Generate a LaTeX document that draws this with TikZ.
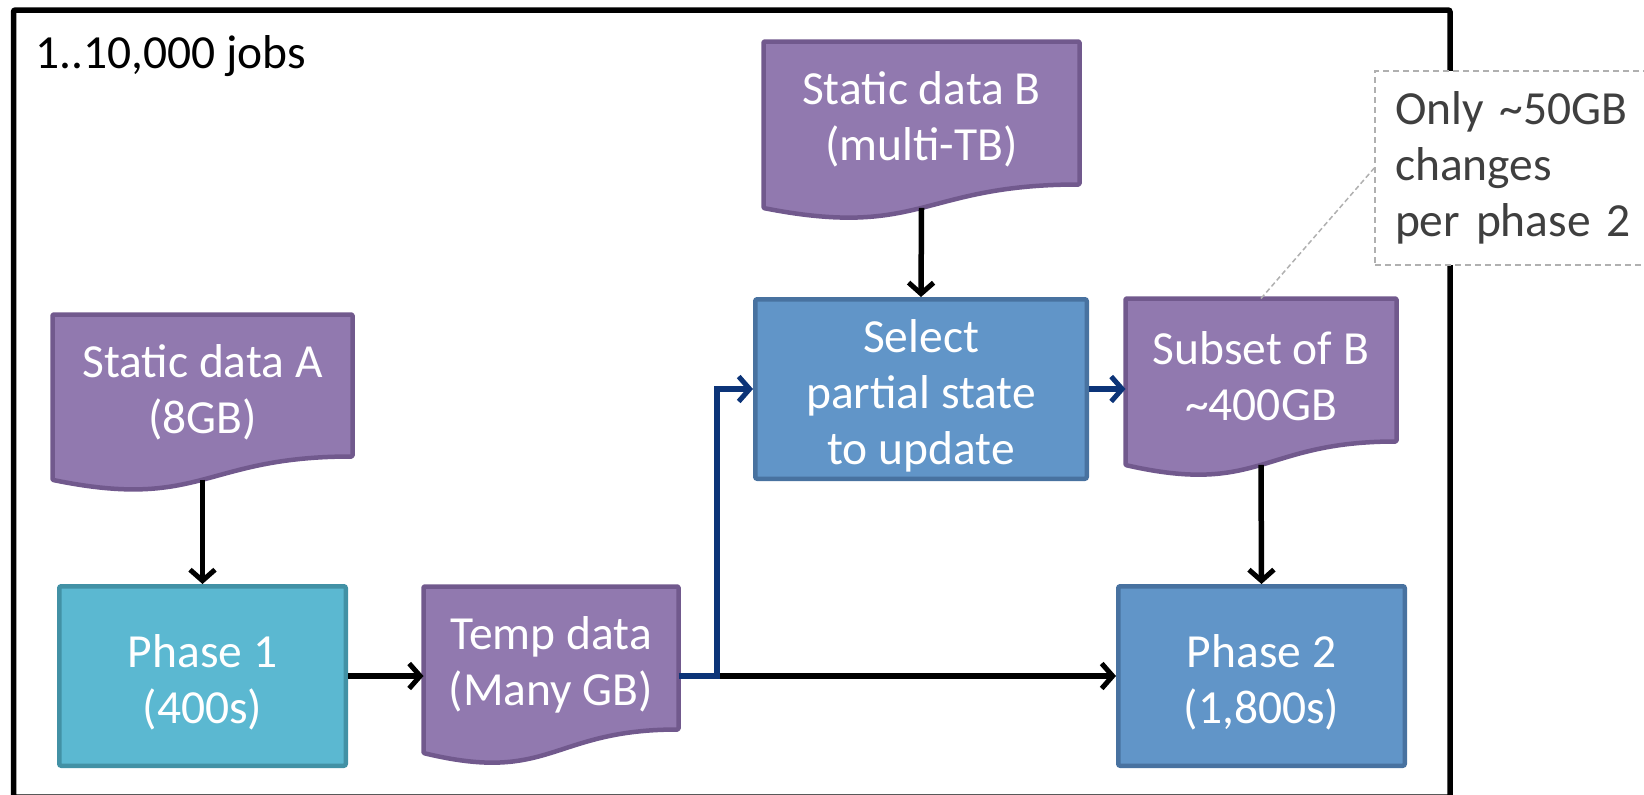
\documentclass[tikz,border=0pt]{standalone}
\usepackage{fontspec}
\setmainfont{Carlito}
\usetikzlibrary{arrows.meta,backgrounds}

\definecolor{docfill}{RGB}{145,121,175}
\definecolor{docedge}{RGB}{113,89,141}
\definecolor{procfill}{RGB}{97,149,200}
\definecolor{procedge}{RGB}{72,114,160}
\definecolor{firstfill}{RGB}{91,184,209}
\definecolor{firstedge}{RGB}{66,145,165}
\definecolor{navyflow}{RGB}{12,52,120}
\definecolor{notegray}{RGB}{176,176,176}
\definecolor{notetext}{RGB}{63,63,63}

\newcommand\bigfont{\fontsize{47.5}{56}\selectfont}
% taller first line, pushes the text block a little lower in its box
\newcommand\lowerstrut{\rule{0pt}{46pt}}

% document shape: flat top, wavy bottom hanging below the node's south edge
% #1 node name, #2 height of the straight part (pt)
\newcommand\drawdoc[2]{%
  \draw[docpath] (#1.north west) -- (#1.north east) -- (#1.south east)
    .. controls (#1.south) and ([yshift={-0.381*#2}]#1.south) ..
    ([yshift={-0.1646*#2}]#1.south west) -- cycle;
  \coordinate (#1-out) at ([yshift={-0.1633*#2}]#1.south);}

\tikzset{
  label text/.style={text=white, align=center, font=\bigfont, inner sep=0pt},
  procbox/.style={label text, draw, line width=4.5pt, rounded corners=2pt,
    minimum height=179.5},
  firstbox/.style={procbox, fill=firstfill, draw=firstedge},
  bluebox/.style={procbox, fill=procfill, draw=procedge},
  docnode/.style={label text, outer sep=0pt},
  docpath/.style={fill=docfill, draw=docedge, line width=4.5pt,
    line join=round, rounded corners=1pt},
  flow/.style={line width=5.5pt,
    -{Straight Barb[length=11pt,width=25pt,line width=5pt]}},
  navy/.style={flow, draw=navyflow},
  notebox/.style={draw=notegray, dash pattern=on 6pt off 4pt,
    line width=1.5pt, fill=white, text=notetext, font=\bigfont,
    align=left, text width=250pt, inner xsep=20pt, inner ysep=0pt,
    minimum height=194},
  leader/.style={draw=notegray, line width=1.5pt, dash pattern=on 5pt off 3pt},
}

\begin{document}
\begin{tikzpicture}[x=1pt, y=-1pt]
  \useasboundingbox (0,0) rectangle (1644,795);

  % job frame
  \draw[line width=5.5pt, rounded corners=2pt] (13.5,10) rectangle (1450,797);
  \node[anchor=base west, font=\bigfont, inner sep=0pt] (title) at (35,68)
    {1..10,000 jobs};

  % data items
  \node[docnode, minimum width=300, minimum height=142] (sa) at (202.5,385.5)
    {\lowerstrut Static data A\\(8GB)};
  \node[docnode, minimum width=316, minimum height=143] (sb) at (921.5,113)
    {\lowerstrut Static data B\\(multi-TB)};
  \node[docnode, minimum width=255, minimum height=143] (tmp) at (551,658)
    {\lowerstrut Temp data\\(Many GB)};
  \node[docnode, minimum width=271, minimum height=143] (sub) at (1261,370)
    {\lowerstrut Subset of B\\\textasciitilde400GB};
  \begin{scope}[on background layer]
    \drawdoc{sa}{142}
    \drawdoc{sb}{143}
    \drawdoc{tmp}{143}
    \drawdoc{sub}{143}
  \end{scope}

  % processing steps
  \node[firstbox, minimum width=286.5] (p1) at (202.5,676)
    {\lowerstrut Phase 1\\(400s)};
  \node[bluebox, minimum width=331.5] (sel) at (921,389)
    {\lowerstrut Select\\partial state\\to update};
  \node[bluebox, minimum width=286.5] (p2) at (1261.5,676)
    {\lowerstrut Phase 2\\(1,800s)};

  % connectors
  \coordinate (split) at (717,676);
  \draw[flow] (sa-out) -- (p1.north);
  \draw[flow] (p1.east) -- (p1.east -| tmp.west);
  \draw[flow] (sb-out) -- (sel.north);
  \draw[flow] (sub-out) -- (p2.north);
  \draw[flow] (split) -- (p2.west);
  \draw[navy] (tmp.east |- split) -- (split) |- (sel.west);
  \draw[navy] (sel.east) -- (sel.east -| sub.west);

  % annotation
  \node[notebox] (note) at (1520,168)
    {Only \textasciitilde50GB\\changes\\per phase 2};
  \draw[leader] (sub.north) -- (note.west);
\end{tikzpicture}
\end{document}
